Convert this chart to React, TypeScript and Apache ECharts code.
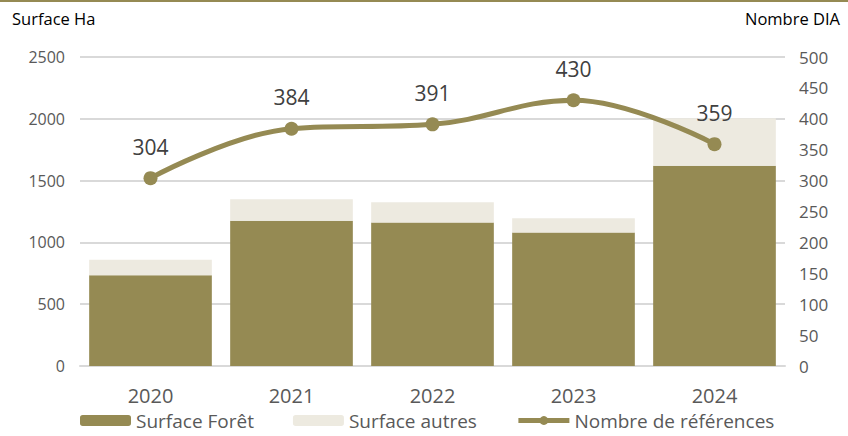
import React, { useEffect, useRef } from "react";
import * as echarts from "echarts";

const years = ["2020", "2021", "2022", "2023", "2024"];
const surfaceForet = [735, 1175, 1160, 1080, 1620];
const surfaceAutres = [125, 175, 165, 115, 385];
const nombreReferences = [304, 384, 391, 430, 359];

const OLIVE = "#958a53";
const LIGHT = "#edeae0";
const FONT = "'Open Sans', 'Noto Sans', sans-serif";

export default function App() {
  const ref = useRef<HTMLDivElement>(null);
  useEffect(() => {
    if (!ref.current) return;
    const chart = echarts.init(ref.current, undefined, { renderer: "svg" });
    chart.setOption({
      animation: false,
      textStyle: { fontFamily: FONT },
      graphic: [
        { type: "rect", left: 0, top: 0, shape: { width: 848, height: 2 }, style: { fill: OLIVE } },
        { type: "text", left: 12, top: 10, style: { text: "Surface Ha", fontSize: 16.5, fontWeight: 500, fill: "#000", fontFamily: FONT } },
        { type: "text", right: 8, top: 10, style: { text: "Nombre DIA", fontSize: 16.5, fontWeight: 500, fill: "#000", fontFamily: FONT } },
      ],
      grid: { left: 80, right: 63, top: 57, bottom: 70 },
      legend: {
        bottom: 1,
        left: 75,
        itemWidth: 51,
        itemHeight: 11,
        itemGap: 39,
        lineStyle: { width: 5 },
        textStyle: { fontSize: 19, color: "#595959", fontFamily: FONT },
        data: ["Surface Forêt", "Surface autres", "Nombre de références"],
      },
      xAxis: {
        type: "category",
        data: years,
        axisLine: { show: true, lineStyle: { color: "#d9d9d9", width: 2 } },
        axisTick: { show: false },
        axisLabel: { fontSize: 20, color: "#595959", margin: 19, fontFamily: FONT },
      },
      yAxis: [
        {
          type: "value",
          min: 0,
          max: 2500,
          interval: 500,
          axisLabel: { fontSize: 16, color: "#595959", margin: 15, fontFamily: FONT, formatter: (v: number) => String(v) },
          splitLine: { lineStyle: { color: "#d9d9d9", width: 2 } },
          axisLine: { show: false },
          axisTick: { show: false },
        },
        {
          type: "value",
          min: 0,
          max: 500,
          interval: 50,
          axisLabel: { fontSize: 17, color: "#595959", margin: 14, fontFamily: FONT, formatter: (v: number) => String(v) },
          splitLine: { show: false },
          axisLine: { show: false },
          axisTick: { show: false },
        },
      ],
      series: [
        {
          name: "Surface Forêt",
          type: "bar",
          stack: "s",
          data: surfaceForet,
          barWidth: "87%",
          itemStyle: { color: OLIVE },
        },
        {
          name: "Surface autres",
          type: "bar",
          stack: "s",
          data: surfaceAutres,
          itemStyle: { color: LIGHT },
        },
        {
          name: "Nombre de références",
          type: "line",
          yAxisIndex: 1,
          data: nombreReferences,
          smooth: 0.4,
          symbol: "circle",
          symbolSize: 14,
          lineStyle: { color: OLIVE, width: 5 },
          itemStyle: { color: OLIVE },
          label: {
            show: true,
            position: "top",
            distance: 14,
            fontSize: 21,
            color: "#404040",
            fontFamily: FONT,
          },
          z: 5,
        },
      ],
    });
    return () => chart.dispose();
  }, []);
  return <div ref={ref} style={{ width: 848, height: 436, position: "absolute", left: 0, top: 0 }} />;
}
